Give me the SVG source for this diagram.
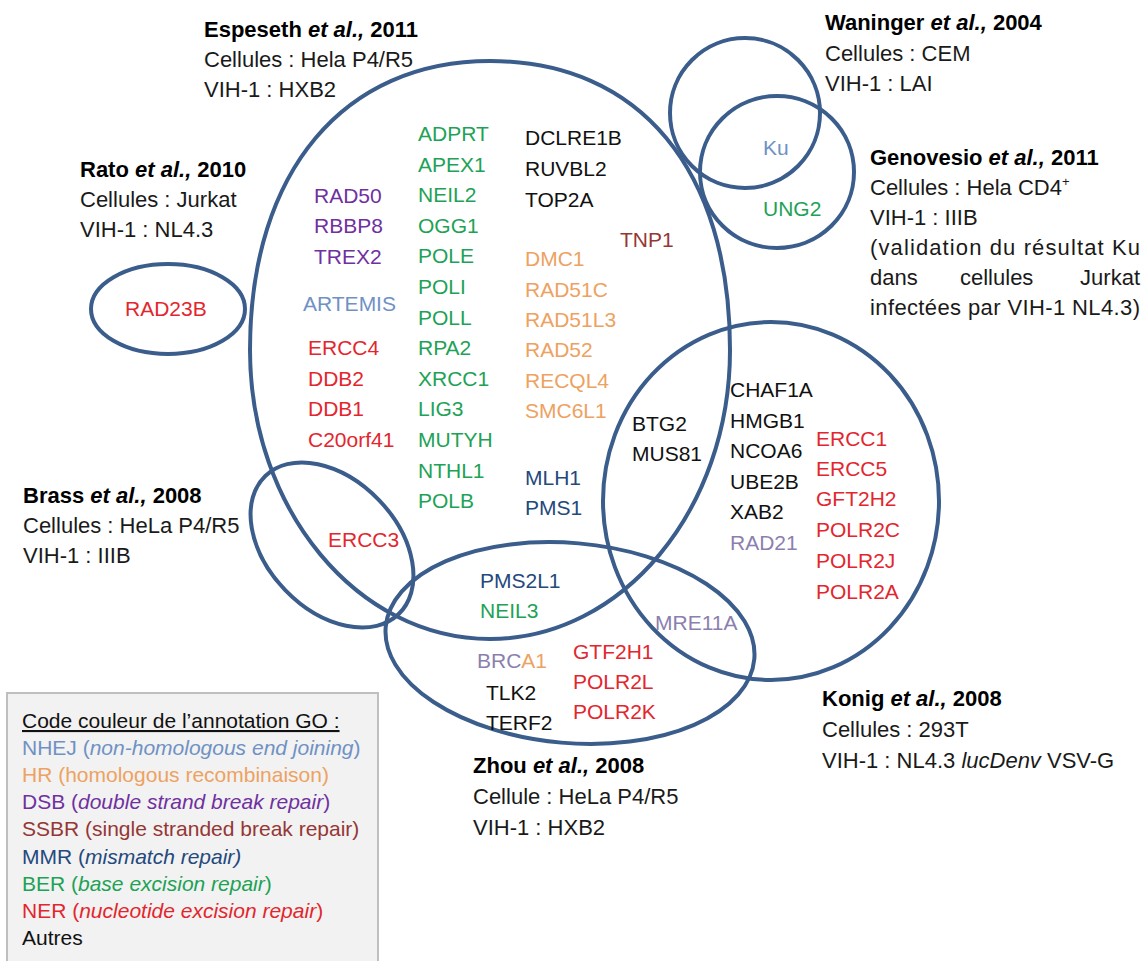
<svg xmlns="http://www.w3.org/2000/svg" width="1147" height="961" viewBox="0 0 1147 961">
<style>
  text { font-family: "Liberation Sans", Arial, sans-serif; }
  .ring { fill: none; stroke: #3b5d8c; stroke-width: 4; }
  .st { font-size: 22px; fill: #1a1a1a; }
  .tt { font-size: 22px; font-weight: bold; fill: #000; }
  .g { font-size: 21px; }
  .lg { font-size: 21px; }
  .nhej { fill: #6f91c4; }
  .hr { fill: #eda262; }
  .dsb { fill: #7030a0; }
  .ssbr { fill: #953735; }
  .mmr { fill: #24497c; }
  .ber { fill: #1da256; }
  .ner { fill: #e3262e; }
  .oth { fill: #111; }
  .pg { fill: #8c7fae; }
  .it { font-style: italic; }
</style>
<rect width="1147" height="961" fill="#fff"/>
<g id="connectors"></g>

<g id="espeseth">
  <path class="ring" d="M 250 350 C 250 170 345 61 490 61 C 640 61 730 170 730 350 C 730 509.6 622.5 639 490 639 C 357.5 639 250 509.6 250 350 Z"/>
  <text class="tt" x="204" y="37">Espeseth <tspan class="it">et al.,</tspan> 2011</text>
  <text class="st" x="204" y="67">Cellules : Hela P4/R5</text>
  <text class="st" x="204" y="97">VIH-1 : HXB2</text>
</g>
<g id="rato">
  <ellipse class="ring" cx="168" cy="309" rx="77" ry="45"/>
  <text class="tt" x="80" y="177">Rato <tspan class="it">et al.,</tspan> 2010</text>
  <text class="st" x="80" y="207">Cellules : Jurkat</text>
  <text class="st" x="80" y="237">VIH-1 : NL4.3</text>
</g>
<g id="waninger">
  <circle class="ring" cx="745" cy="113" r="75"/>
  <text class="tt" x="825" y="30">Waninger <tspan class="it">et al.,</tspan> 2004</text>
  <text class="st" x="825" y="61">Cellules : CEM</text>
  <text class="st" x="825" y="91">VIH-1 : LAI</text>
</g>
<g id="genovesio">
  <ellipse class="ring" cx="777" cy="172" rx="77" ry="76"/>
  <text class="tt" x="870" y="165">Genovesio <tspan class="it">et al.,</tspan> 2011</text>
  <text class="st" x="870" y="195">Cellules : Hela CD4<tspan font-size="13" dy="-9">+</tspan></text>
  <text class="st" x="870" y="225">VIH-1 : IIIB</text>
  <text class="st" x="870" y="255" textLength="270" lengthAdjust="spacing">(validation du résultat Ku</text>
  <text class="st" y="285"><tspan x="870">dans</tspan><tspan x="960">cellules</tspan><tspan x="1140" text-anchor="end">Jurkat</tspan></text>
  <text class="st" x="870" y="315" textLength="270" lengthAdjust="spacing">infectées par VIH-1 NL4.3)</text>
</g>
<g id="brass">
  <ellipse class="ring" cx="332" cy="545" rx="96" ry="65" transform="rotate(46 332 545)"/>
  <text class="tt" x="23" y="503">Brass <tspan class="it">et al.,</tspan> 2008</text>
  <text class="st" x="23" y="533">Cellules : HeLa P4/R5</text>
  <text class="st" x="23" y="563">VIH-1 : IIIB</text>
</g>
<g id="zhou">
  <ellipse class="ring" cx="570" cy="643" rx="185" ry="100" transform="rotate(5 570 643)"/>
  <text class="tt" x="473" y="773">Zhou <tspan class="it">et al.,</tspan> 2008</text>
  <text class="st" x="473" y="804">Cellule : HeLa P4/R5</text>
  <text class="st" x="473" y="835">VIH-1 : HXB2</text>
</g>
<g id="konig">
  <ellipse class="ring" cx="771" cy="501" rx="168" ry="179"/>
  <text class="tt" x="822" y="706">Konig <tspan class="it">et al.,</tspan> 2008</text>
  <text class="st" x="822" y="737">Cellules : 293T</text>
  <text class="st" x="822" y="768">VIH-1 : NL4.3 <tspan class="it">lucDenv</tspan> VSV-G</text>
</g>

<g id="genes-espeseth">
  <text class="g dsb" x="314" y="203">RAD50</text>
  <text class="g dsb" x="314" y="233">RBBP8</text>
  <text class="g dsb" x="314" y="264">TREX2</text>
  <text class="g nhej" x="303" y="311">ARTEMIS</text>
  <text class="g ner" x="308" y="355">ERCC4</text>
  <text class="g ner" x="308" y="386">DDB2</text>
  <text class="g ner" x="308" y="416">DDB1</text>
  <text class="g ner" x="308" y="447">C20orf41</text>
  <text class="g ber" x="418" y="141">ADPRT</text>
  <text class="g ber" x="418" y="172">APEX1</text>
  <text class="g ber" x="418" y="202">NEIL2</text>
  <text class="g ber" x="418" y="233">OGG1</text>
  <text class="g ber" x="418" y="263">POLE</text>
  <text class="g ber" x="418" y="294">POLI</text>
  <text class="g ber" x="418" y="325">POLL</text>
  <text class="g ber" x="418" y="355">RPA2</text>
  <text class="g ber" x="418" y="386">XRCC1</text>
  <text class="g ber" x="418" y="416">LIG3</text>
  <text class="g ber" x="418" y="447">MUTYH</text>
  <text class="g ber" x="418" y="478">NTHL1</text>
  <text class="g ber" x="418" y="508">POLB</text>
  <text class="g oth" x="525" y="145">DCLRE1B</text>
  <text class="g oth" x="525" y="176">RUVBL2</text>
  <text class="g oth" x="525" y="207">TOP2A</text>
  <text class="g ssbr" x="620" y="247">TNP1</text>
  <text class="g hr" x="525" y="266">DMC1</text>
  <text class="g hr" x="525" y="297">RAD51C</text>
  <text class="g hr" x="525" y="327">RAD51L3</text>
  <text class="g hr" x="525" y="357">RAD52</text>
  <text class="g hr" x="525" y="388">RECQL4</text>
  <text class="g hr" x="525" y="418">SMC6L1</text>
  <text class="g mmr" x="525" y="485">MLH1</text>
  <text class="g mmr" x="525" y="515">PMS1</text>
</g>
<g id="genes-other">
  <text class="g ner" x="125" y="316">RAD23B</text>
  <text class="g nhej" x="763" y="155">Ku</text>
  <text class="g ber" x="763" y="216">UNG2</text>
  <text class="g ner" x="328" y="547">ERCC3</text>
  <text class="g oth" x="632" y="431">BTG2</text>
  <text class="g oth" x="632" y="461">MUS81</text>
  <text class="g oth" x="730" y="397">CHAF1A</text>
  <text class="g oth" x="730" y="428">HMGB1</text>
  <text class="g oth" x="730" y="458">NCOA6</text>
  <text class="g oth" x="730" y="489">UBE2B</text>
  <text class="g oth" x="730" y="519">XAB2</text>
  <text class="g pg" x="730" y="550">RAD21</text>
  <text class="g ner" x="816" y="446">ERCC1</text>
  <text class="g ner" x="816" y="476">ERCC5</text>
  <text class="g ner" x="816" y="506">GFT2H2</text>
  <text class="g ner" x="816" y="537">POLR2C</text>
  <text class="g ner" x="816" y="568">POLR2J</text>
  <text class="g ner" x="816" y="599">POLR2A</text>
  <text class="g pg" x="655" y="630">MRE11A</text>
  <text class="g mmr" x="480" y="588">PMS2L1</text>
  <text class="g ber" x="480" y="618">NEIL3</text>
  <text class="g" x="477" y="668"><tspan class="pg">BRC</tspan><tspan class="hr">A1</tspan></text>
  <text class="g oth" x="486" y="700">TLK2</text>
  <text class="g oth" x="486" y="730">TERF2</text>
  <text class="g ner" x="573" y="659">GTF2H1</text>
  <text class="g ner" x="573" y="689">POLR2L</text>
  <text class="g ner" x="573" y="719">POLR2K</text>
</g>

<g id="legend">
  <rect x="7" y="693" width="371" height="290" fill="#f2f2f2" stroke="#bfbfbf" stroke-width="2"/>
  <text class="lg oth" x="22" y="728" text-decoration="underline">Code couleur de l’annotation GO :</text>
  <text class="lg nhej" x="22" y="755">NHEJ (<tspan class="it">non-homologous end joining</tspan>)</text>
  <text class="lg hr" x="22" y="782">HR (homologous recombinaison)</text>
  <text class="lg dsb" x="22" y="809">DSB (<tspan class="it">double strand break repair</tspan>)</text>
  <text class="lg ssbr" x="22" y="836">SSBR (single stranded break repair)</text>
  <text class="lg mmr" x="22" y="864">MMR (<tspan class="it">mismatch repair)</tspan></text>
  <text class="lg ber" x="22" y="891">BER (<tspan class="it">base excision repair</tspan>)</text>
  <text class="lg ner" x="22" y="918">NER (<tspan class="it">nucleotide excision repair</tspan>)</text>
  <text class="lg oth" x="22" y="945">Autres</text>
</g>
</svg>
